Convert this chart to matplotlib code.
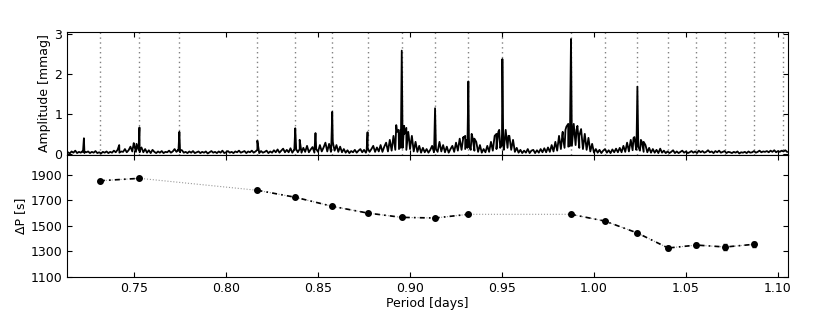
import numpy as np
import matplotlib
matplotlib.use("Agg")
import matplotlib.pyplot as plt

# ---------------- data ----------------
# Observed modes (period in days) and period spacing dP (s)
mode_period = [0.7314, 0.7529, 0.8170, 0.8376, 0.8577, 0.8769, 0.8955, 0.9136,
               0.9317, 0.9875, 1.0059, 1.0236, 1.0403, 1.0557, 1.0714, 1.0870]
delta_p = [1855, 1874, 1780, 1725, 1654, 1601, 1567, 1562,
           1591, 1591, 1538, 1444, 1326, 1349, 1334, 1355]
delta_p_err = [6, 6, 6, 6, 6, 6, 6, 6, 6, 8, 8, 8, 18, 18, 20, 22]
# index ranges of connected (dash-dot) runs; gaps drawn as thin dotted line
runs = [(0, 2), (2, 9), (9, 16)]

# vertical guide lines in the spectrum panel
guide_period = [0.7314, 0.7529, 0.7746, 0.8170, 0.8376, 0.8577, 0.8769, 0.8955,
                0.9136, 0.9317, 0.9502, 0.9875, 1.0059, 1.0236, 1.0403, 1.0557,
                1.0714, 1.0870, 1.1026]

# amplitude spectrum background: (start, end)
bg_segments = [
    (0.714, 0.733, [0.04, 0.01, 0.06, 0.03, 0.08, 0.02, 0.05, 0.03, 0.07, 0.02,
                    0.04, 0.06, 0.02, 0.05, 0.03, 0.07, 0.02, 0.04, 0.01, 0.05]),
    (0.734, 0.753, [0.03, 0.06, 0.02, 0.05, 0.03, 0.08, 0.04, 0.10, 0.03, 0.06,
                    0.05, 0.12, 0.04, 0.09, 0.18, 0.06, 0.22, 0.05, 0.15, 0.04]),
    (0.754, 0.773, [0.16, 0.04, 0.12, 0.03, 0.09, 0.02, 0.10, 0.05, 0.02, 0.06,
                    0.03, 0.07, 0.02, 0.05, 0.04, 0.08, 0.03, 0.06, 0.12, 0.05]),
    (0.774, 0.793, [0.10, 0.04, 0.09, 0.03, 0.05, 0.02, 0.06, 0.03, 0.07, 0.02,
                    0.04, 0.06, 0.02, 0.05, 0.03, 0.06, 0.01, 0.04, 0.07, 0.03]),
    (0.794, 0.813, [0.05, 0.02, 0.06, 0.03, 0.08, 0.02, 0.04, 0.07, 0.03, 0.05,
                    0.02, 0.06, 0.04, 0.08, 0.03, 0.05, 0.07, 0.02, 0.06, 0.04]),
    (0.814, 0.833, [0.08, 0.03, 0.06, 0.10, 0.02, 0.07, 0.03, 0.05, 0.08, 0.02,
                    0.06, 0.03, 0.09, 0.04, 0.11, 0.03, 0.08, 0.13, 0.04, 0.10]),
    (0.834, 0.853, [0.04, 0.14, 0.03, 0.10, 0.18, 0.04, 0.12, 0.03, 0.15, 0.05,
                    0.20, 0.04, 0.11, 0.17, 0.03, 0.12, 0.05, 0.22, 0.06, 0.16]),
    (0.854, 0.873, [0.28, 0.06, 0.25, 0.05, 0.32, 0.08, 0.22, 0.05, 0.18, 0.04,
                    0.12, 0.03, 0.09, 0.02, 0.07, 0.04, 0.10, 0.03, 0.08, 0.12]),
    (0.874, 0.893, [0.04, 0.10, 0.03, 0.15, 0.05, 0.12, 0.20, 0.05, 0.16, 0.06,
                    0.22, 0.05, 0.18, 0.28, 0.06, 0.35, 0.08, 0.45, 0.10, 0.55]),
    (0.894, 0.913, [0.12, 0.60, 0.15, 0.50, 0.10, 0.55, 0.12, 0.45, 0.06, 0.30,
                    0.05, 0.20, 0.03, 0.15, 0.04, 0.12, 0.03, 0.10, 0.20, 0.04]),
    (0.914, 0.933, [0.25, 0.05, 0.30, 0.06, 0.22, 0.04, 0.18, 0.03, 0.12, 0.20,
                    0.05, 0.28, 0.08, 0.38, 0.10, 0.42, 0.12, 0.35, 0.45, 0.10]),
    (0.934, 0.953, [0.40, 0.08, 0.30, 0.05, 0.22, 0.03, 0.12, 0.04, 0.20, 0.05,
                    0.30, 0.08, 0.45, 0.12, 0.55, 0.15, 0.50, 0.10, 0.58, 0.15]),
    (0.954, 0.973, [0.45, 0.10, 0.35, 0.05, 0.15, 0.03, 0.10, 0.02, 0.08, 0.03,
                    0.12, 0.02, 0.08, 0.10, 0.02, 0.09, 0.03, 0.12, 0.04, 0.14]),
    (0.974, 0.993, [0.04, 0.16, 0.05, 0.22, 0.06, 0.30, 0.08, 0.45, 0.12, 0.55,
                    0.15, 0.68, 0.18, 0.72, 0.20, 0.75, 0.22, 0.70, 0.15, 0.62]),
    (0.994, 1.013, [0.12, 0.50, 0.10, 0.40, 0.06, 0.25, 0.03, 0.12, 0.03, 0.10,
                    0.02, 0.08, 0.12, 0.03, 0.09, 0.02, 0.11, 0.04, 0.13, 0.04]),
    (1.014, 1.033, [0.15, 0.04, 0.20, 0.05, 0.28, 0.06, 0.35, 0.09, 0.42, 0.10,
                    0.38, 0.08, 0.30, 0.05, 0.22, 0.04, 0.15, 0.03, 0.12, 0.03]),
    (1.034, 1.053, [0.10, 0.02, 0.13, 0.03, 0.08, 0.02, 0.06, 0.02, 0.05, 0.09,
                    0.02, 0.06, 0.02, 0.05, 0.08, 0.03, 0.06, 0.02, 0.04, 0.07]),
    (1.054, 1.073, [0.03, 0.06, 0.02, 0.08, 0.04, 0.07, 0.03, 0.05, 0.09, 0.04,
                    0.06, 0.02, 0.07, 0.04, 0.08, 0.03, 0.05, 0.07, 0.02, 0.05]),
    (1.074, 1.093, [0.04, 0.02, 0.05, 0.03, 0.06, 0.01, 0.04, 0.03, 0.05, 0.02,
                    0.06, 0.03, 0.04, 0.07, 0.03, 0.05, 0.08, 0.04, 0.06, 0.05]),
    (1.094, 1.105, [0.07, 0.04, 0.08, 0.05, 0.09, 0.04, 0.07, 0.05, 0.08, 0.06,
                    0.09, 0.05]),
]
# narrow peaks (period, amplitude)
peak_period = [0.7222, 0.7227, 0.7232, 0.7419, 0.7498, 0.7513,
               0.7524, 0.7529, 0.7534, 0.7741, 0.7746, 0.7751, 0.8170,
               0.8371, 0.8376, 0.8381, 0.8400, 0.8486,
               0.8572, 0.8577, 0.8582, 0.8764, 0.8769, 0.8774,
               0.8925, 0.8938, 0.8950, 0.8955, 0.8960, 0.8968, 0.8980, 0.8993,
               0.9131, 0.9136, 0.9141,
               0.9290, 0.9300, 0.9312, 0.9317, 0.9322, 0.9335, 0.9350,
               0.9470, 0.9485, 0.9497, 0.9502, 0.9507, 0.9520, 0.9535,
               0.9830, 0.9845, 0.9860, 0.9870, 0.9875, 0.9880, 0.9890, 0.9905, 0.9920,
               1.0215, 1.0231, 1.0236, 1.0241, 1.0255, 1.0270]
peak_amp = [0.05, 0.39, 0.05, 0.22, 0.27, 0.25,
            0.10, 0.66, 0.12, 0.08, 0.55, 0.10, 0.33,
            0.10, 0.64, 0.12, 0.35, 0.52,
            0.20, 1.05, 0.25, 0.08, 0.54, 0.10,
            0.72, 0.60, 0.15, 2.58, 0.15, 0.70, 0.65, 0.45,
            0.10, 1.14, 0.12,
            0.40, 0.45, 0.15, 1.81, 0.18, 0.50, 0.38,
            0.50, 0.60, 0.20, 2.37, 0.20, 0.60, 0.45,
            0.45, 0.60, 0.75, 0.20, 2.87, 0.22, 0.75, 0.60, 0.45,
            0.40, 0.15, 1.68, 0.18, 0.35, 0.30]

# ---------------- build spectrum ----------------
sp_p, sp_a = [], []
for start, end, vals in bg_segments:
    sp_p.extend(np.linspace(start, end, len(vals)))
    sp_a.extend(vals)
sp_p.extend(peak_period)
sp_a.extend(peak_amp)
sp_p = np.array(sp_p)
sp_a = np.array(sp_a)
order = np.argsort(sp_p)
sp_p, sp_a = sp_p[order], sp_a[order]

# ---------------- figure ----------------
plt.rcParams['font.family'] = ['DejaVu Sans']
plt.rcParams['font.size'] = 9
plt.rcParams['xtick.direction'] = 'in'
plt.rcParams['ytick.direction'] = 'in'

fig = plt.figure(figsize=(8.3, 3.12), dpi=100)
left, right = 0.0807, 0.949
ax1 = fig.add_axes([left, 0.503, right - left, 0.898 - 0.503])
ax2 = fig.add_axes([left, 0.113, right - left, 0.503 - 0.113], sharex=ax1)

for p in guide_period:
    ax1.axvline(p, color='0.5', ls=(0, (1, 2.5)), lw=1.0, zorder=1)
ax1.plot(sp_p, sp_a, color='black', lw=1.3, zorder=2)
ax1.set_ylim(-0.03, 3.05)
ax1.set_yticks([0, 1, 2, 3])
ax1.set_ylabel('Amplitude [mmag]', labelpad=2)
ax1.tick_params(labelbottom=False, top=True, right=True)

mp = np.array(mode_period)
dp = np.array(delta_p)
ax2.plot(mp, dp, color='0.6', ls=':', lw=0.8, zorder=1)
for a, b in runs:
    ax2.plot(mp[a:b], dp[a:b], color='black', lw=1.2, zorder=2,
             dashes=(3, 2.5, 1, 2.5))
ax2.errorbar(mp, dp, yerr=delta_p_err, fmt='o', color='black', ms=4,
             elinewidth=1, capsize=1.5, zorder=3)
ax2.set_ylim(1100, 2057)
ax2.set_yticks([1100, 1300, 1500, 1700, 1900])
ax2.set_xlim(0.7135, 1.1053)
ax2.set_xticks([0.75, 0.80, 0.85, 0.90, 0.95, 1.00, 1.05, 1.10])
ax2.set_xticklabels(['0.75', '0.80', '0.85', '0.90', '0.95', '1.00', '1.05', '1.10'])
ax2.set_xlabel('Period [days]', labelpad=2)
ax2.set_ylabel('ΔP [s]', labelpad=2)
ax2.tick_params(top=True, right=True)

fig.savefig('out.png', dpi=100)
